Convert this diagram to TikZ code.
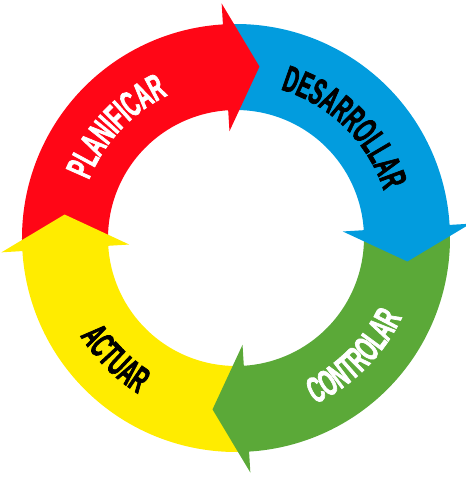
\documentclass[tikz,border=0pt]{standalone}
\usepackage{fontspec}
\usetikzlibrary{decorations.text}
\newfontfamily\cyclefont[FakeStretch=0.53,FakeBold=1.8]{Liberation Sans Bold}
\definecolor{planred}{HTML}{FF0616}
\definecolor{devblue}{HTML}{029CDE}
\definecolor{checkgreen}{HTML}{5BA938}
\definecolor{actyellow}{HTML}{FFEC00}
\newcommand{\labelfont}{\cyclefont\fontsize{37}{37}\selectfont}

\begin{document}
\begin{tikzpicture}[x=1pt, y=1pt]
  \useasboundingbox (-236,-242) rectangle (230,238);
  \foreach \ang/\col in {90/planred, 0/devblue, -90/checkgreen, 180/actyellow}
    \fill[\col] ({\ang+93}:214) arc[start angle=\ang+93, end angle=\ang+2.5, radius=214]
      -- ({\ang+2.5}:128) arc[start angle=\ang+2.5, end angle=\ang+93, radius=128] -- cycle;
  \foreach \ang/\col in {90/planred, 0/devblue, -90/checkgreen, 180/actyellow}
    \fill[\col] ({\ang+3.5}:107) -- ({\ang+3.5}:235) -- ({\ang-7.8}:173) -- cycle;
  \path[decorate, decoration={text along path, text align=center, text color=white,
        text={|\labelfont|PLANIFICAR}}] (180:158) arc[start angle=180, end angle=94, radius=158];
  \path[decorate, decoration={text along path, text align=center, text color=black,
        text={|\labelfont|DESARROLLAR}}] (90:155) arc[start angle=90, end angle=1, radius=155];
  \path[decorate, decoration={text along path, text align=center, text color=white,
        text={|\labelfont|CONTROLAR}}] (-90:184) arc[start angle=-90, end angle=0, radius=184];
  \path[decorate, decoration={text along path, text align=center, text color=black,
        text={|\labelfont|ACTUAR}}] (180:184) arc[start angle=180, end angle=270, radius=184];
\end{tikzpicture}
\end{document}
